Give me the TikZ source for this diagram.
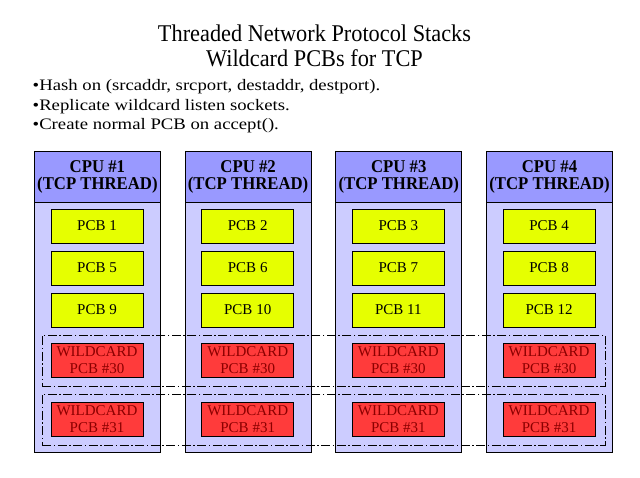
\documentclass[tikz,border=0pt]{standalone}
\usepackage{fontspec}
\setmainfont{Liberation Serif}
\newfontfamily\titlefont[FakeStretch=0.93]{Liberation Serif}
\newfontfamily\headfont[FakeStretch=0.93]{Liberation Serif}
\newfontfamily\bulletfont[FakeStretch=1.17]{Liberation Serif}
\definecolor{hdr}{HTML}{9999FF}
\definecolor{bodyc}{HTML}{CCCCFF}
\definecolor{pcby}{HTML}{E6FF00}
\definecolor{pcbr}{HTML}{FF3B3B}
\definecolor{wtext}{HTML}{8B0000}
\begin{document}
\begin{tikzpicture}[x=1pt,y=-1pt,
  colbody/.style={draw=black, fill=bodyc, line width=0.8pt, minimum width=126pt, minimum height=250pt, inner sep=0pt, anchor=north west},
  colhead/.style={draw=black, fill=hdr, line width=0.8pt, minimum width=126pt, minimum height=51pt, inner sep=0pt, anchor=north west, align=center, font=\headfont\bfseries\fontsize{18}{17.5}\selectfont},
  pcbbox/.style={draw=black, fill=pcby, line width=0.6pt, minimum width=92pt, minimum height=34pt, inner sep=0pt, font=\fontsize{15}{17}\selectfont},
  wildbox/.style={draw=black, fill=pcbr, line width=0.6pt, minimum width=92pt, minimum height=34pt, inner sep=0pt, text=wtext, align=center, font=\fontsize{15}{17.5}\selectfont},
  wildgroup/.style={draw=black, dash pattern=on 9pt off 2.5pt on 1.5pt off 2.5pt, line width=0.6pt, minimum width=563pt, minimum height=51pt, inner sep=0pt, anchor=north west},
  titletext/.style={font=\titlefont\fontsize{24}{25}\selectfont, inner sep=0pt, anchor=base},
  bullettext/.style={font=\bulletfont\fontsize{16}{19}\selectfont, inner sep=0pt, anchor=base west}
]
\useasboundingbox (0,0) rectangle (640,477);
\node[titletext] (t1) at (314.5,41) {Threaded Network Protocol Stacks};
\node[titletext] (t2) at (314.5,66) {Wildcard PCBs for TCP};
\node[bullettext] (b1) at (32.5,90.7) {•Hash on (srcaddr, srcport, destaddr, destport).};
\node[bullettext] (b2) at (32.5,110) {•Replicate wildcard listen sockets.};
\node[bullettext] (b3) at (32.5,129.3) {•Create normal PCB on accept().};
\foreach \c in {1,2,3,4}{
  \pgfmathsetmacro{\xx}{34+150.7*(\c-1)}
  \node[colbody] (body\c) at (\xx,202) {};
  \node[colhead] (head\c) at (\xx,151) {CPU \#\c\\(TCP THREAD)};
}
\node[wildgroup] (g30) at (42,335) {};
\node[wildgroup] (g31) at (42,394) {};
\foreach \c in {1,2,3,4}{
  \pgfmathsetmacro{\xc}{34+150.7*(\c-1)+63}
  \foreach \r/\yy in {1/226,2/268,3/310}{
    \pgfmathtruncatemacro{\n}{\c+4*(\r-1)}
    \node[pcbbox] (pcb\n) at (\xc,\yy) {PCB \n};
  }
  \node[wildbox] (w30\c) at (\xc,360) {WILDCARD\\PCB \#30};
  \node[wildbox] (w31\c) at (\xc,419) {WILDCARD\\PCB \#31};
}
\end{tikzpicture}
\end{document}
